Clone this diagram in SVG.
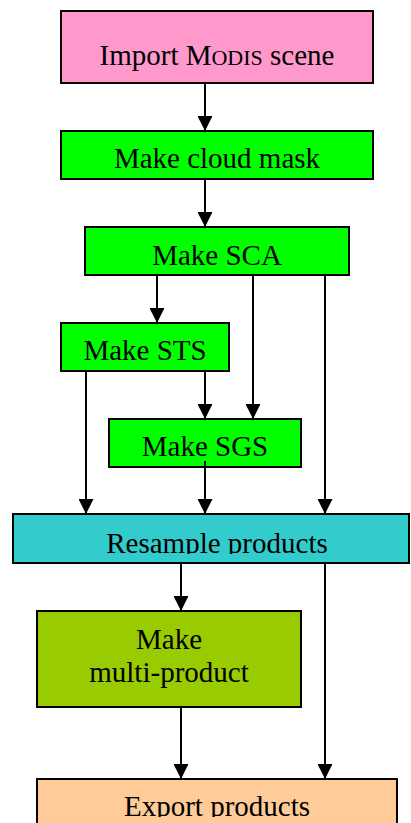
<svg xmlns="http://www.w3.org/2000/svg" width="411" height="823" viewBox="0 0 411 823">
<style>
.box{stroke:#000;stroke-width:2}
.lbl{font-family:"Liberation Serif","Times New Roman",serif;font-size:29px;fill:#000;text-anchor:middle}
.sc{font-size:22px}
.con{stroke:#000;stroke-width:2;fill:none;marker-end:url(#arr)}
</style>
<defs>
<marker id="arr" markerUnits="userSpaceOnUse" markerWidth="15" markerHeight="15" refX="15" refY="7.5" orient="auto" viewBox="0 0 15 15">
<path d="M0,0 L15,7.5 L0,15 z" fill="#000"/>
</marker>
<clipPath id="clipRes"><rect x="0" y="500" width="411" height="54"/></clipPath>
<clipPath id="clipExp"><rect x="0" y="770" width="411" height="47"/></clipPath>
</defs>
<rect width="411" height="823" fill="#fff"/>
<g id="connectors">
<line class="con" x1="205" y1="83" x2="205" y2="131"/>
<line class="con" x1="205" y1="179" x2="205" y2="227"/>
<line class="con" x1="157" y1="275" x2="157" y2="323"/>
<line class="con" x1="253" y1="275" x2="253" y2="419"/>
<line class="con" x1="325" y1="275" x2="325" y2="514"/>
<line class="con" x1="205" y1="371" x2="205" y2="419"/>
<line class="con" x1="86" y1="371" x2="86" y2="514"/>
<line class="con" x1="181" y1="563" x2="181" y2="611"/>
<line class="con" x1="325" y1="563" x2="325" y2="779"/>
<line class="con" x1="181" y1="707" x2="181" y2="779"/>
</g>
<g id="import">
<rect class="box" x="61" y="11" width="312" height="72" fill="#FF99CC"/>
<text class="lbl" x="217" y="65">Import M<tspan class="sc">ODIS</tspan> scene</text>
</g>
<g id="cloud">
<rect class="box" x="61" y="131" width="312" height="48" fill="#00FF00"/>
<text class="lbl" x="217" y="168">Make cloud mask</text>
</g>
<g id="sca">
<rect class="box" x="85" y="227" width="264" height="48" fill="#00FF00"/>
<text class="lbl" x="217" y="265">Make SCA</text>
</g>
<g id="sts">
<rect class="box" x="61" y="323" width="168" height="48" fill="#00FF00"/>
<text class="lbl" x="145" y="360">Make STS</text>
</g>
<g id="sgs">
<rect class="box" x="109" y="419" width="192" height="48" fill="#00FF00"/>
<text class="lbl" x="205" y="456">Make SGS</text>
</g>
<g id="connectors2">
<line class="con" x1="205" y1="461" x2="205" y2="514"/>
</g>
<g id="resample">
<rect class="box" x="13" y="514" width="396" height="49" fill="#33CCCC"/>
<text class="lbl" x="217" y="553" clip-path="url(#clipRes)">Resample products</text>
</g>
<g id="multi">
<rect class="box" x="37" y="611" width="264" height="96" fill="#99CC00"/>
<text class="lbl" x="169" y="649">Make</text>
<text class="lbl" x="169" y="682">multi-product</text>
</g>
<g id="export">
<rect class="box" x="37" y="779" width="360" height="60" fill="#FFCC99"/>
<text class="lbl" x="217" y="816" clip-path="url(#clipExp)">Export products</text>
</g>
</svg>
